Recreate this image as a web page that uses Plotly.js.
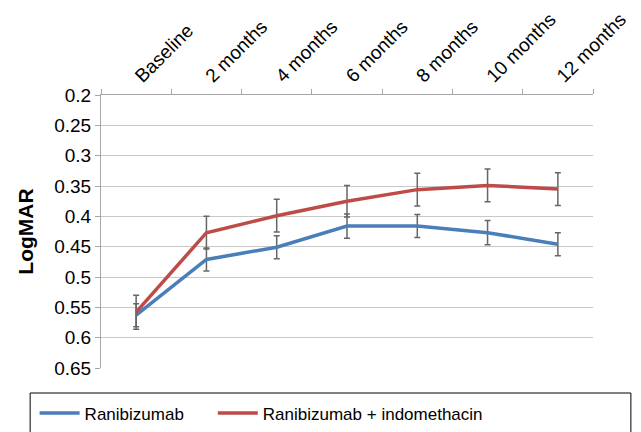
<!DOCTYPE html>
<html>
<head>
<meta charset="utf-8">
<script src="https://cdn.plot.ly/plotly-3.0.1.min.js"></script>
<style>html,body{margin:0;padding:0;background:#fff;}#chart{width:641px;height:432px;}</style>
</head>
<body>
<div id="chart"></div>
<script>
var categories = ["Baseline", "2 months", "4 months", "6 months", "8 months", "10 months", "12 months"];
var ranibizumab = [0.563, 0.471, 0.451, 0.416, 0.416, 0.427, 0.446];
var ranibizumabErr = [0.019, 0.019, 0.019, 0.020, 0.019, 0.020, 0.019];
var combo = [0.558, 0.427, 0.399, 0.375, 0.356, 0.349, 0.355];
var comboErr = [0.028, 0.027, 0.027, 0.026, 0.027, 0.027, 0.027];
var yTickVals = [0.2, 0.25, 0.3, 0.35, 0.4, 0.45, 0.5, 0.55, 0.6, 0.65];
var yTickText = ["0.2", "0.25", "0.3", "0.35", "0.4", "0.45", "0.5", "0.55", "0.6", "0.65"];

var font = "Liberation Sans, Arial, sans-serif";
var errStyle = {type: "data", visible: true, color: "#666666", thickness: 1.5, width: 3};

var traces = [
  {
    x: categories, y: ranibizumab, name: "Ranibizumab", type: "scatter", mode: "lines",
    line: {color: "#4a7ebb", width: 3.5}, legend: "legend",
    error_y: Object.assign({array: ranibizumabErr}, errStyle)
  },
  {
    x: categories, y: combo, name: "Ranibizumab + indomethacin", type: "scatter", mode: "lines",
    line: {color: "#be4b48", width: 3.5}, legend: "legend2",
    error_y: Object.assign({array: comboErr}, errStyle)
  }
];

var legendBase = {
  orientation: "h", xref: "container", yref: "container",
  xanchor: "left", yanchor: "middle",
  font: {family: font, size: 17, color: "#000"},
  bgcolor: "rgba(0,0,0,0)", borderwidth: 0, itemwidth: 40
};

var layout = {
  width: 641, height: 432,
  margin: {l: 101, r: 48, t: 95, b: 64, pad: 0},
  paper_bgcolor: "#ffffff", plot_bgcolor: "#ffffff",
  font: {family: font, size: 18, color: "#000000"},
  showlegend: true,
  xaxis: {
    type: "category", side: "top", range: [-0.5, 6.5],
    showgrid: false, zeroline: false,
    showline: true, linecolor: "#a6a6a6", linewidth: 1,
    ticks: "outside", tickson: "boundaries", ticklen: 5, tickcolor: "#a6a6a6",
    tickangle: -45, tickfont: {family: font, size: 19, color: "#000"}
  },
  yaxis: {
    range: [0.65, 0.2], tickvals: yTickVals, ticktext: yTickText,
    showgrid: true, gridcolor: "#c8c8c8", gridwidth: 1, zeroline: false,
    showline: true, linecolor: "#a6a6a6", linewidth: 1,
    ticks: "outside", ticklen: 5, tickcolor: "#a6a6a6",
    tickfont: {family: font, size: 19, color: "#000"},
    title: {text: "<b>LogMAR</b>", font: {family: font, size: 21, color: "#000"}, standoff: 14}
  },
  legend: Object.assign({}, legendBase, {x: 0.054, y: 0.043}),
  legend2: Object.assign({}, legendBase, {x: 0.332, y: 0.043}),
  shapes: [{
    type: "rect", xref: "paper", yref: "paper",
    x0: -0.144, x1: 1.077, y0: -0.3, y1: -0.0916,
    line: {color: "#000000", width: 1}, fillcolor: "rgba(0,0,0,0)"
  }]
};

Plotly.newPlot("chart", traces, layout, {displayModeBar: false, staticPlot: true});
</script>
</body>
</html>
